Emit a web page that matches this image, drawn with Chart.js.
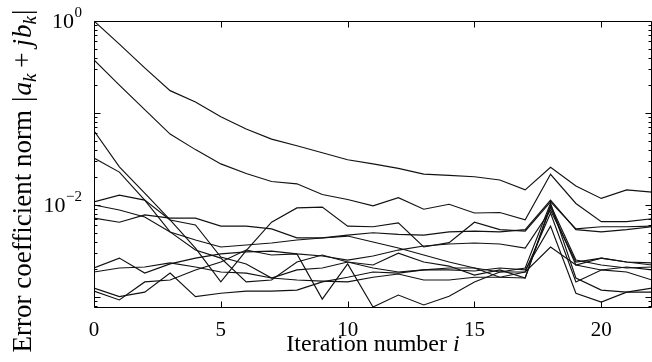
<!DOCTYPE html>
<html><head><meta charset="utf-8">
<script src="https://cdn.jsdelivr.net/npm/chart.js@4/dist/chart.umd.min.js"></script>
<style>html,body{margin:0;padding:0;background:#fff}#wrap{width:652px;height:362px;position:relative}</style>
</head><body><div id="wrap"><canvas id="c" width="652" height="362"></canvas></div>
<script>
// ---- data ----
const iterations = [0,1,2,3,4,5,6,7,8,9,10,11,12,13,14,15,16,17,18,19,20,21,22];
const s1 = [1.0,0.56,0.31,0.175,0.132,0.091,0.067,0.052,0.044,0.037,0.031,0.028,0.025,0.0217,0.021,0.0203,0.0187,0.0146,0.0257,0.0161,0.0118,0.0146,0.0138];
const s2 = [0.377,0.201,0.109,0.059,0.040,0.028,0.022,0.018,0.017,0.013,0.0115,0.0098,0.012,0.009,0.0102,0.0082,0.0083,0.0069,0.0216,0.0104,0.0066,0.0066,0.0071];
const s3 = [0.064,0.026,0.0135,0.0069,0.0034,0.00146,0.0032,0.0065,0.0093,0.0095,0.0059,0.0058,0.0064,0.0035,0.0039,0.0065,0.0054,0.0052,0.0108,0.0055,0.0058,0.0058,0.0059];
const s4 = [0.0324,0.0228,0.0113,0.0051,0.00324,0.00265,0.00146,0.00153,0.0024,0.00286,0.0024,0.00223,0.0030,0.0024,0.00217,0.00173,0.00197,0.00161,0.0095,0.00223,0.00265,0.0024,0.00223];
const s5 = [0.0108,0.0128,0.0113,0.00687,0.00607,0.00272,0.00229,0.00161,0.00197,0.00207,0.0024,0.00207,0.00187,0.00197,0.00207,0.00207,0.00187,0.00187,0.0082,0.00146,0.00197,0.00212,0.00197];
const s6 = [0.0100,0.00883,0.0074,0.00509,0.00417,0.0035,0.00368,0.00387,0.00417,0.00438,0.0046,0.00397,0.00341,0.00286,0.0024,0.00207,0.00164,0.00161,0.0100,0.00252,0.00223,0.00207,0.00212];
const s7 = [0.0072,0.0065,0.0078,0.0072,0.0072,0.0059,0.0059,0.0055,0.0044,0.0044,0.0047,0.0050,0.0048,0.0047,0.0051,0.0052,0.0051,0.0054,0.0113,0.0054,0.0051,0.0054,0.0058];
const s8 = [0.00207,0.00265,0.00182,0.00229,0.00265,0.00294,0.0031,0.00316,0.00294,0.00279,0.00252,0.00279,0.00324,0.00359,0.00377,0.00387,0.00377,0.00341,0.0088,0.0024,0.00265,0.0024,0.00235];
const s9 = [0.00187,0.00207,0.00212,0.00235,0.00212,0.00187,0.00182,0.00161,0.00153,0.00149,0.00146,0.00164,0.00178,0.00153,0.00153,0.00164,0.00164,0.00187,0.0035,0.00223,0.00197,0.00187,0.00153];
const s10 = [0.00125,0.00101,0.00113,0.00182,0.00101,0.0011,0.00116,0.00116,0.00119,0.00146,0.00164,0.00187,0.00182,0.00197,0.00197,0.00192,0.00207,0.00197,0.0059,0.0011,0.00088,0.00113,0.00125];
const s11 = [0.00116,0.00093,0.00146,0.00153,0.00197,0.0024,0.00324,0.00286,0.00294,0.00095,0.00229,0.00078,0.00105,0.00082,0.00102,0.00146,0.00187,0.00207,0.0105,0.00161,0.00119,0.00113,0.00113];
const seriesList = [s1,s2,s3,s4,s5,s6,s7,s8,s9,s10,s11];

const xTickValues = [0,5,10,15,20];
const yTickLabels = [{value: 1, base: '10', exp: '0'}, {value: 0.01, base: '10', exp: '\u22122'}];
const xTitle = 'Iteration number ';
const xTitleVar = 'i';
const yTitle = 'Error coefficient norm';

// ---- chart ----
const SERIF = "'Liberation Serif','Times New Roman',serif";
const X_MIN = 0, X_MAX = 22, Y_MIN = 7.6e-4, Y_MAX = 1;

function logTicks(min, max){
  const out = [];
  for (let e = Math.floor(Math.log10(min)); e <= Math.ceil(Math.log10(max)); e++){
    for (let k = 1; k <= 9; k++){
      const v = +(k * Math.pow(10, e)).toPrecision(3);
      if (v >= min && v <= max) out.push({value: v, major: k === 1});
    }
  }
  return out;
}

const framePlugin = {
  id: 'frame',
  afterDatasetsDraw(chart){
    const {ctx, chartArea:a, scales} = chart;
    ctx.save();
    ctx.strokeStyle = '#000';
    ctx.lineWidth = 1;
    ctx.beginPath();
    const L = Math.round(a.left)+0.5, R = Math.round(a.right)-0.5, T = Math.round(a.top)+0.5, B = Math.round(a.bottom)-0.5;
    ctx.moveTo(L,T); ctx.lineTo(R,T); ctx.lineTo(R,B); ctx.lineTo(L,B); ctx.closePath();
    xTickValues.forEach(v => {
      const px = Math.round(scales.x.getPixelForValue(v)) + 0.5;
      ctx.moveTo(px, B); ctx.lineTo(px, B-6);
      ctx.moveTo(px, T); ctx.lineTo(px, T+6);
    });
    scales.y.ticks.forEach(t => {
      const py = Math.round(scales.y.getPixelForValue(t.value)) + 0.5;
      const len = t.major ? 6 : 3;
      ctx.moveTo(L, py); ctx.lineTo(L+len, py);
      ctx.moveTo(R, py); ctx.lineTo(R-len, py);
    });
    ctx.stroke();
    ctx.restore();
  },
  afterDraw(chart){
    const ctx = chart.ctx;
    ctx.save();
    ctx.fillStyle = '#000';
    // y tick labels with superscript exponents
    const fb = '22px ' + SERIF, fe = '15px ' + SERIF;
    ctx.textBaseline = 'middle';
    yTickLabels.forEach(l => {
      const py = chart.scales.y.getPixelForValue(l.value);
      const right = 82;
      ctx.font = fe; const we = ctx.measureText(l.exp).width;
      ctx.textAlign = 'left';
      ctx.fillText(l.exp, right - we, py - 8);
      ctx.font = fb; ctx.textAlign = 'right';
      ctx.fillText(l.base, right - we - 0.5, py + 1);
    });
    ctx.textBaseline = 'alphabetic';
    ctx.textAlign = 'left';
    // x title
    const fx = '24px ' + SERIF, fxi = 'italic 24px ' + SERIF;
    ctx.font = fx; const w1 = ctx.measureText(xTitle).width;
    ctx.font = fxi; const w2 = ctx.measureText(xTitleVar).width;
    const cx = 373, by = 351;
    let x0 = cx - (w1+w2)/2;
    ctx.font = fx; ctx.fillText(xTitle, x0, by);
    ctx.font = fxi; ctx.fillText(xTitleVar, x0 + w1, by);
    // y title (rotated)
    const size = 27, sub = 19;
    const segs = [
      {t: yTitle, f: size+'px '+SERIF, dy: 0, gap: 8},
      {t: '|', f: size+'px '+SERIF, dy: 0, gap: 1},
      {t: 'a', f: 'italic '+size+'px '+SERIF, dy: 0, gap: 0},
      {t: 'k', f: 'italic '+sub+'px '+SERIF, dy: 5, gap: 6},
      {t: '+', f: size+'px '+SERIF, dy: 0, gap: 6},
      {t: 'j', f: 'italic '+size+'px '+SERIF, dy: 0, gap: 1},
      {t: 'b', f: 'italic '+size+'px '+SERIF, dy: 0, gap: 0},
      {t: 'k', f: 'italic '+sub+'px '+SERIF, dy: 5, gap: 1},
      {t: '|', f: size+'px '+SERIF, dy: 0, gap: 0}
    ];
    let total = 0;
    segs.forEach(s => { ctx.font = s.f; s.w = ctx.measureText(s.t).width; total += s.w + s.gap; });
    ctx.translate(31, 181);
    ctx.rotate(-Math.PI/2);
    let px = -total/2;
    segs.forEach(s => { ctx.font = s.f; ctx.fillText(s.t, px, s.dy); px += s.w + s.gap; });
    ctx.restore();
  }
};

new Chart(document.getElementById('c'), {
  type: 'line',
  data: {
    datasets: seriesList.map((s, k) => ({
      label: 'coefficient ' + (k+1),
      data: s.map((v, i) => ({x: iterations[i], y: v})),
      borderColor: '#111',
      borderWidth: 1.15,
      pointRadius: 0,
      fill: false,
      tension: 0
    }))
  },
  options: {
    responsive: false,
    animation: false,
    devicePixelRatio: 1,
    layout: {padding: {top: 21, right: -4, left: 0, bottom: 0}},
    plugins: {legend: {display: false}, tooltip: {enabled: false}, title: {display: false}},
    scales: {
      x: {
        type: 'linear', min: X_MIN, max: X_MAX,
        afterBuildTicks: s => { s.ticks = xTickValues.map(v => ({value: v})); },
        afterFit: s => { s.height = 54; },
        ticks: {color: '#000', font: {family: SERIF, size: 21}, padding: 10, maxRotation: 0, autoSkip: false},
        grid: {display: false, drawTicks: false},
        border: {display: false}
      },
      y: {
        type: 'logarithmic', min: Y_MIN, max: Y_MAX,
        afterBuildTicks: s => { s.ticks = logTicks(Y_MIN, Y_MAX); },
        afterFit: s => { s.width = 94; },
        ticks: {display: false, autoSkip: false},
        grid: {display: false, drawTicks: false},
        border: {display: false}
      }
    }
  },
  plugins: [framePlugin]
});
</script>
</body></html>
